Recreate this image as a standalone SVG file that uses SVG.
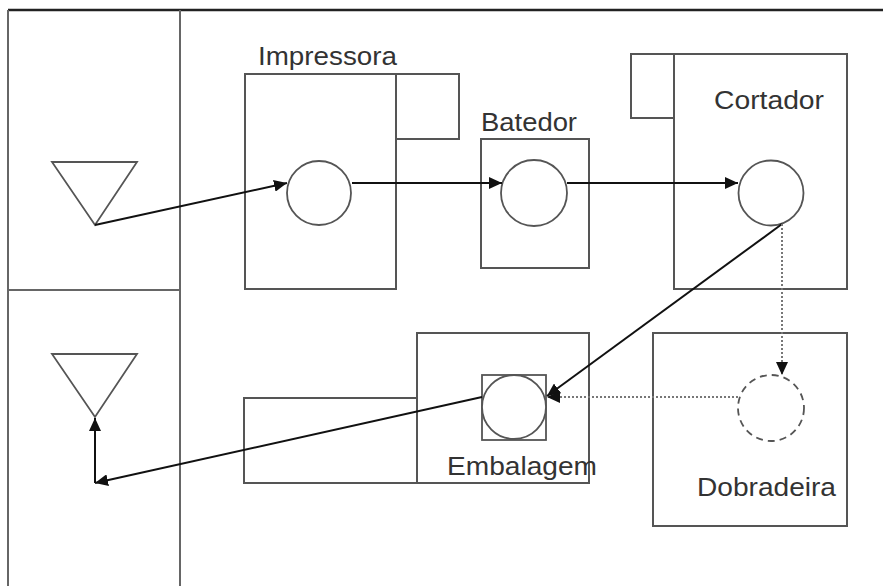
<svg xmlns="http://www.w3.org/2000/svg" width="883" height="586" viewBox="0 0 883 586">
  <defs>
    <marker id="arrow" markerUnits="userSpaceOnUse" markerWidth="14" markerHeight="12" refX="13" refY="6" orient="auto">
      <path d="M0,0 L13,6 L0,12 z" fill="#111"/>
    </marker>
    <style>
      .frame { fill: none; stroke: #666; stroke-width: 2; }
      .box { fill: #fff; stroke: #555; stroke-width: 2; }
      .sym { fill: #fff; stroke: #555; stroke-width: 1.8; }
      .flow { fill: none; stroke: #111; stroke-width: 2; marker-end: url(#arrow); }
      .flow-plain { fill: none; stroke: #111; stroke-width: 2; }
      .dotted { fill: none; stroke: #777; stroke-width: 2; stroke-dasharray: 2 2; marker-end: url(#arrow); }
      .label { font-family: "Liberation Sans", Arial, sans-serif; font-size: 25px; fill: #333; }
    </style>
  </defs>

  <rect width="883" height="586" fill="#fff"/>

  <!-- swimlane frame -->
  <g id="frame">
    <line x1="8" y1="10" x2="883" y2="10" stroke="#222" stroke-width="2.5"/>
    <line class="frame" x1="8" y1="10" x2="8" y2="586"/>
    <line class="frame" x1="180" y1="10" x2="180" y2="586"/>
    <line class="frame" x1="8" y1="290" x2="180" y2="290"/>
  </g>

  <!-- storage triangles -->
  <g id="storage-in">
    <polygon class="sym" points="52,162 137,162 95,225"/>
  </g>
  <g id="storage-out">
    <polygon class="sym" points="52,354 137,354 95,417"/>
  </g>

  <!-- Impressora -->
  <g id="impressora">
    <rect class="box" x="245" y="74" width="151" height="215"/>
    <rect class="box" x="396" y="74" width="63" height="65"/>
    <circle class="sym" cx="319" cy="193" r="32"/>
    <text class="label" x="258" y="65" textLength="139" lengthAdjust="spacingAndGlyphs">Impressora</text>
  </g>

  <!-- Batedor -->
  <g id="batedor">
    <rect class="box" x="481" y="139" width="108" height="129"/>
    <circle class="sym" cx="534" cy="193" r="33"/>
    <text class="label" x="481" y="131" textLength="96" lengthAdjust="spacingAndGlyphs">Batedor</text>
  </g>

  <!-- Cortador -->
  <g id="cortador">
    <rect class="box" x="631" y="54" width="43" height="64"/>
    <rect class="box" x="674" y="54" width="173" height="235"/>
    <circle class="sym" cx="771" cy="193" r="32.5"/>
    <text class="label" x="714" y="109" textLength="110" lengthAdjust="spacingAndGlyphs">Cortador</text>
  </g>

  <!-- Dobradeira -->
  <g id="dobradeira">
    <rect class="box" x="653" y="333" width="194" height="193"/>
    <circle cx="771" cy="408" r="33" fill="#fff" stroke="#555" stroke-width="1.8" stroke-dasharray="7 5"/>
    <text class="label" x="697" y="496" textLength="139" lengthAdjust="spacingAndGlyphs">Dobradeira</text>
  </g>

  <!-- Embalagem -->
  <g id="embalagem">
    <rect class="box" x="244" y="398" width="173" height="85"/>
    <rect class="box" x="417" y="333" width="172" height="150"/>
    <rect class="sym" x="482" y="375" width="64" height="65"/>
    <circle class="sym" cx="514" cy="407" r="32"/>
    <text class="label" x="447" y="475" textLength="150" lengthAdjust="spacingAndGlyphs">Embalagem</text>
  </g>

  <!-- connectors -->
  <g id="connectors">
    <line class="flow" x1="95" y1="225" x2="287" y2="183"/>
    <line class="flow" x1="352" y1="183" x2="502" y2="183"/>
    <line class="flow" x1="567" y1="183" x2="738" y2="183"/>
    <line class="flow" x1="782" y1="224" x2="547" y2="396"/>
    <line class="dotted" x1="782" y1="224" x2="782" y2="375"/>
    <line class="dotted" x1="738" y1="397" x2="547" y2="397"/>
    <polyline class="flow" points="482,397 95,483"/>
    <line class="flow" x1="95" y1="483" x2="95" y2="418"/>
  </g>
</svg>
